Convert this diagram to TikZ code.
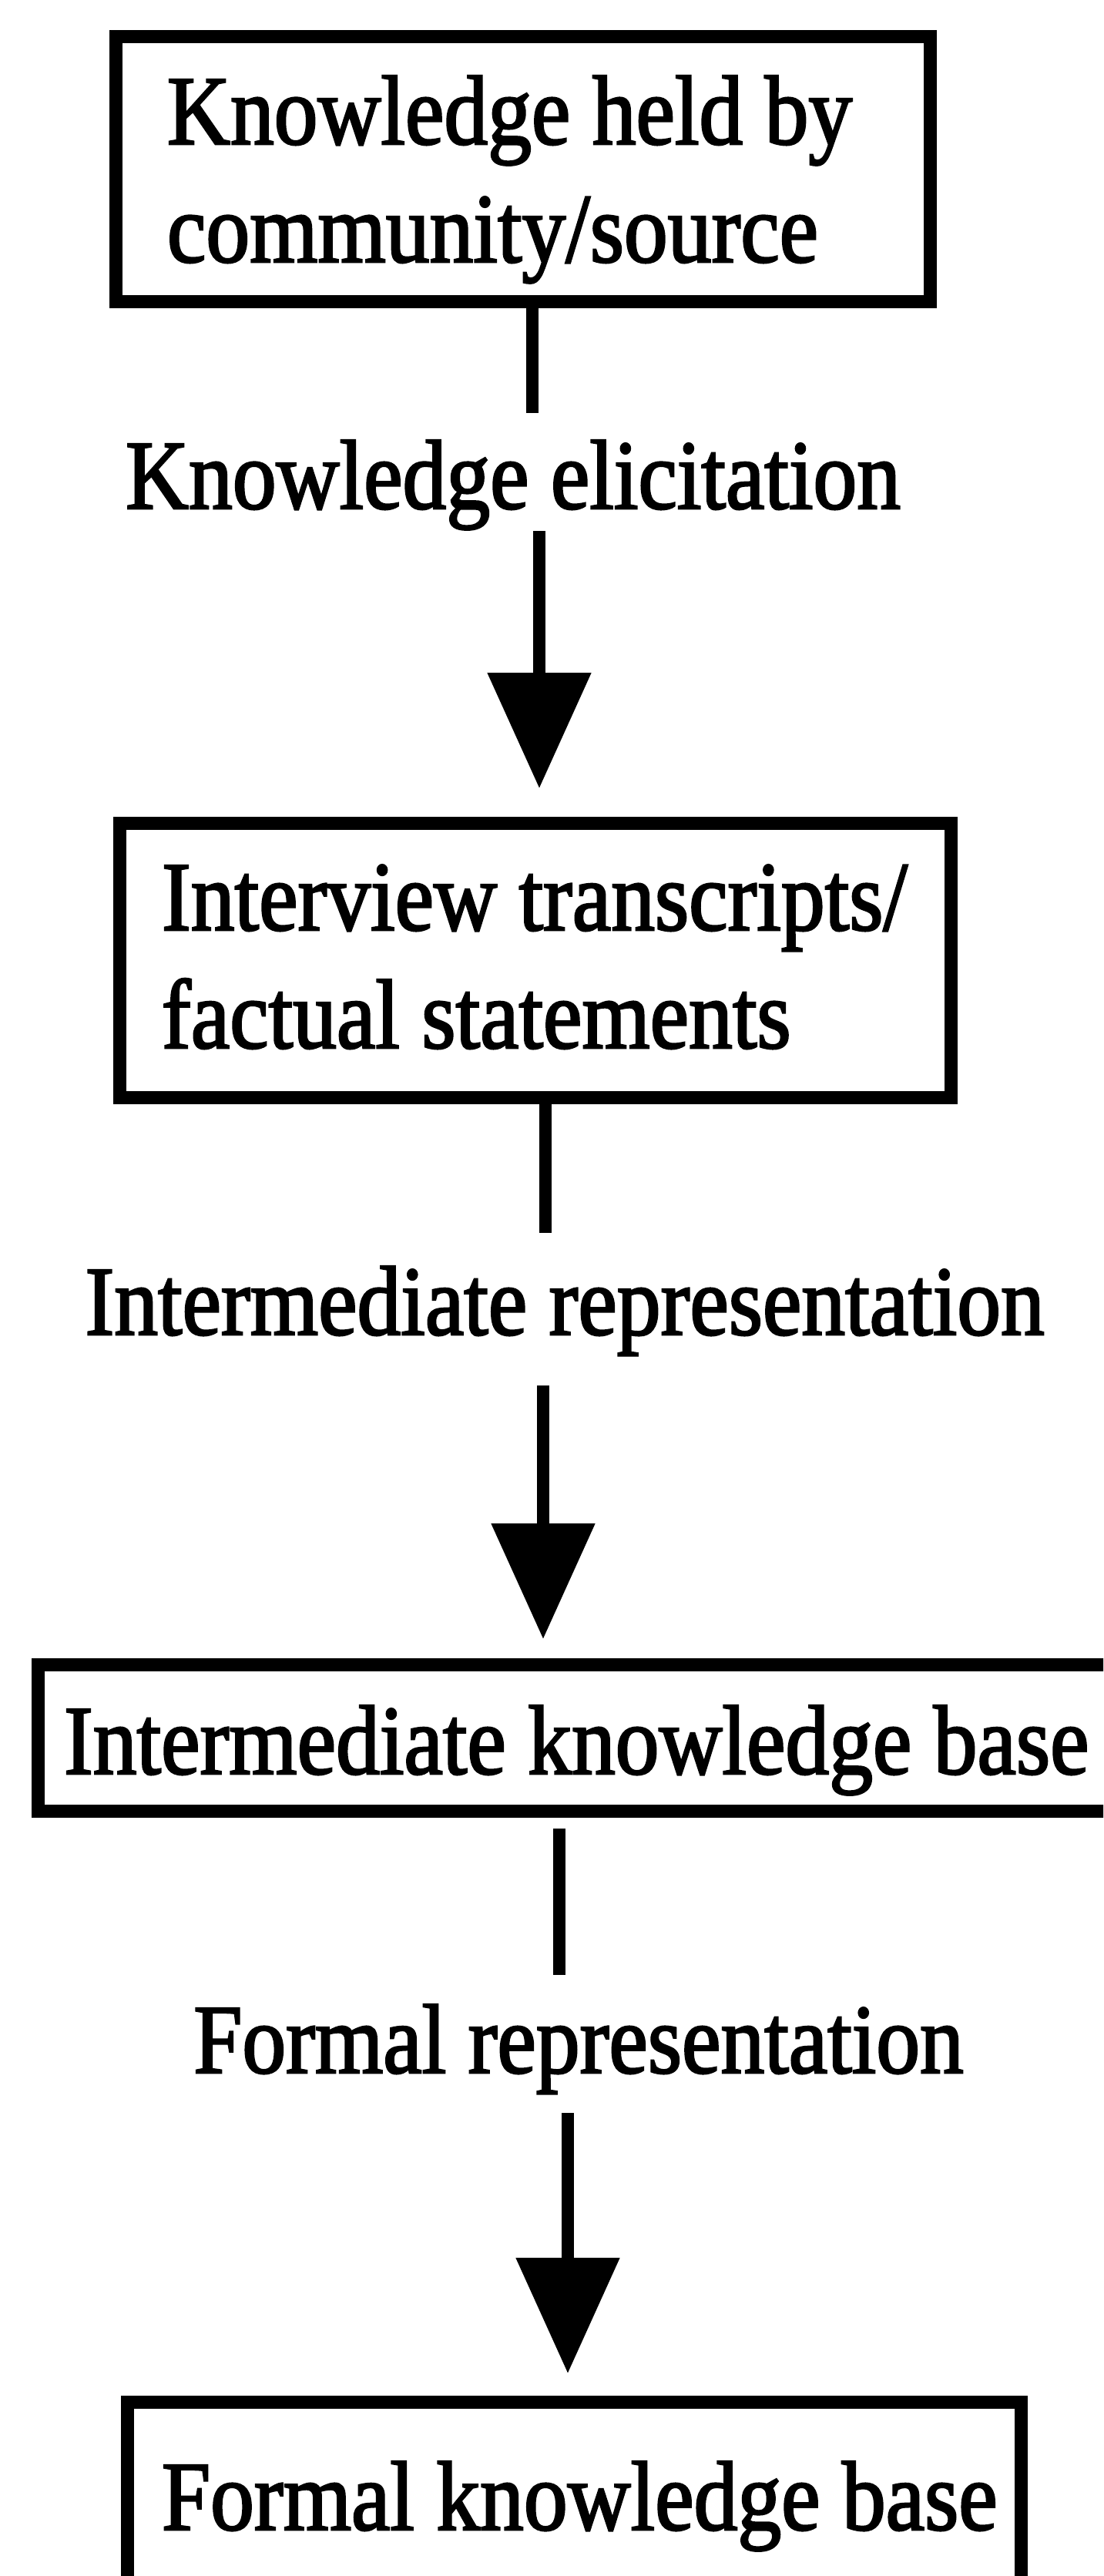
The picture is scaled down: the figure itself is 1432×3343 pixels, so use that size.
\documentclass[tikz,border=0pt]{standalone}
\usepackage{fontspec}
\setmainfont{Liberation Serif}[FakeStretch=0.887,FakeBold=2]
\usetikzlibrary{arrows.meta}
\begin{document}
\begin{tikzpicture}[x=1pt,y=-1pt,
  every node/.append style={font=\fontsize{128}{153}\selectfont, outer sep=0pt},
  stagebox/.style={draw, line width=17pt, anchor=north west, inner ysep=0pt,
    execute at begin node={\spaceskip=0pt\xspaceskip=0pt\relax}},
  caption/.style={anchor=base, inner sep=0pt},
  link/.style={line width=16pt},
  flow/.style={line width=16pt, -{Triangle[length=150pt,width=131pt]}}]

% page frame
\path[use as bounding box, clip] (0,0) rectangle (1432,3343);
\fill[white] (0,0) rectangle (1432,3343);

% stages (lines kept whole, set left in a fixed-width box)
\node[stagebox, inner xsep=67pt, text width=923pt, text height=139pt, text depth=204pt]
  (src) at (150,48) {\mbox{Knowledge held by}\\\mbox{community/source}};
\node[stagebox, inner xsep=55pt, text width=969pt, text height=139pt, text depth=217pt]
  (raw) at (155,1068) {\mbox{Interview transcripts/}\\\mbox{factual statements}};
\node[stagebox, inner xsep=34pt, text width=1328pt, text height=142pt, text depth=48pt]
  (mid) at (49,2160) {\mbox{Intermediate knowledge base}};
\node[stagebox, inner xsep=45pt, text width=1070pt, text height=166pt, text depth=80pt]
  (fkb) at (165,3117) {\mbox{Formal knowledge base}};

% process labels
\node[caption, text height=124pt, text depth=29pt] (elic) at (666,660) {Knowledge elicitation};
\node[caption, text height=132pt, text depth=66pt] (irep) at (733,1732) {Intermediate representation};
\node[caption, text height=127pt, text depth=52pt] (frep) at (751,2690) {Formal representation};

% connector axes
\coordinate (x1) at (691,0);
\coordinate (x2) at (700,0);
\coordinate (x3) at (708,0);
\coordinate (x4) at (705,0);
\coordinate (x5) at (726,0);
\coordinate (x6) at (737,0);

% connectors
\draw[link] (src.south -| x1) -- (elic.north -| x1);
\draw[flow, shorten >=45pt] (elic.south -| x2) -- (raw.north -| x2);
\draw[link] (raw.south -| x3) -- (irep.north -| x3);
\draw[flow, shorten >=33pt] (irep.south -| x4) -- (mid.north -| x4);
\draw[link, shorten <=23pt] (mid.south -| x5) -- (frep.north -| x5);
\draw[flow, shorten >=37pt] (frep.south -| x6) -- (fkb.north -| x6);
\end{tikzpicture}
\end{document}
